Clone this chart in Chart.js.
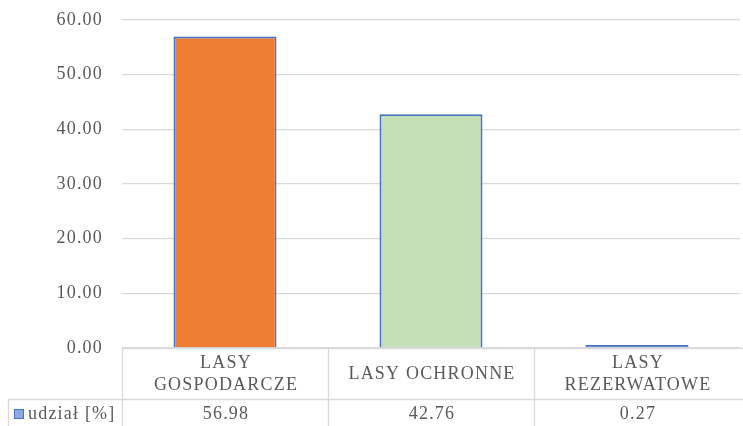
<!DOCTYPE html>
<html>
<head>
<meta charset="utf-8">
<script src="https://cdn.jsdelivr.net/npm/chart.js@4"></script>
<style>
  html, body { margin: 0; padding: 0; background: #fff; }
  #wrap { width: 743px; height: 426px; }
</style>
</head>
<body>
<div id="wrap"><canvas id="grafica" width="743" height="426"></canvas></div>
<script>
var kategorie = [['LASY', 'GOSPODARCZE'], ['LASY OCHRONNE'], ['LASY', 'REZERWATOWE']];
var udzial = [56.98, 42.76, 0.27];
var etykietyWartosci = ['56.98', '42.76', '0.27'];
var nazwaSerii = 'udział [%]';

var kolorTekstu = '#595959';
var kolorSiatki = '#d9d9d9';
var czcionka = '"Liberation Serif", "Times New Roman", serif';
var odstepLiter = '1.2px';

// szerszy rozstaw liter jak w oryginale
var rozstaw = {
    id: 'rozstaw',
    beforeDraw: function(chart) {
        chart.ctx.letterSpacing = odstepLiter;
    }
};

// tabela danych pod wykresem (jak w Excelu)
var tabelaDanych = {
    id: 'tabelaDanych',
    afterDraw: function(chart) {
        var ctx = chart.ctx;
        var area = chart.chartArea;
        var x = chart.scales.x;
        var yTop = area.bottom;
        var yMid = yTop + 51;
        var yBot = chart.height;
        var n = kategorie.length;
        var krok = x.getPixelForValue(1) - x.getPixelForValue(0);

        ctx.save();
        ctx.letterSpacing = odstepLiter;
        ctx.strokeStyle = kolorSiatki;
        ctx.lineWidth = 1.3;
        ctx.beginPath();
        ctx.moveTo(area.left, yTop + 0.5);
        ctx.lineTo(chart.width, yTop + 0.5);
        ctx.moveTo(8, yMid + 0.5);
        ctx.lineTo(chart.width, yMid + 0.5);
        ctx.moveTo(8.5, yMid);
        ctx.lineTo(8.5, yBot);
        for (var i = 0; i < n; i++) {
            var xl = Math.round(x.getPixelForValue(i) - krok / 2) + 0.5;
            ctx.moveTo(xl, yTop);
            ctx.lineTo(xl, yBot);
        }
        ctx.stroke();

        ctx.fillStyle = kolorTekstu;
        ctx.font = '18px ' + czcionka;
        ctx.textAlign = 'center';
        ctx.textBaseline = 'middle';
        for (var j = 0; j < n; j++) {
            var cx = x.getPixelForValue(j) + 1;
            var linie = kategorie[j];
            var h = 22;
            var start = yTop + 26.5 - (linie.length - 1) * h / 2;
            for (var k = 0; k < linie.length; k++) {
                ctx.fillText(linie[k], cx, start + k * h);
            }
            ctx.fillText(etykietyWartosci[j], cx, yMid + 15);
        }

        // znacznik legendy
        ctx.fillStyle = '#8faadc';
        ctx.strokeStyle = '#4472c4';
        ctx.lineWidth = 1;
        ctx.fillRect(14, yMid + 10, 10, 10);
        ctx.strokeRect(14.5, yMid + 10.5, 9, 9);
        ctx.fillStyle = kolorTekstu;
        ctx.textAlign = 'left';
        ctx.fillText(nazwaSerii, 28, yMid + 15);
        ctx.restore();
    }
};

var ctx = document.getElementById('grafica').getContext('2d');
var wykres = new Chart(ctx, {
    type: 'bar',
    data: {
        labels: kategorie,
        datasets: [{
            label: nazwaSerii,
            data: udzial,
            backgroundColor: ['#ed7d31', '#c5e0b4', '#4472c4'],
            borderColor: '#4472c4',
            borderWidth: 2,
            minBarLength: 3,
            categoryPercentage: 1,
            barPercentage: 0.5
        }]
    },
    options: {
        responsive: false,
        animation: false,
        layout: { padding: { top: 20, right: 3, bottom: 78, left: 0 } },
        plugins: {
            legend: { display: false },
            tooltip: { enabled: false }
        },
        scales: {
            x: {
                display: false,
                offset: true
            },
            y: {
                min: 0,
                max: 60,
                ticks: {
                    stepSize: 10,
                    padding: 19,
                    color: kolorTekstu,
                    font: { family: czcionka, size: 18 },
                    callback: function(v) { return v.toFixed(2); }
                },
                grid: { color: kolorSiatki, lineWidth: 1.3, drawTicks: false },
                border: { display: false },
                afterFit: function(scale) {
                    scale.width = 122;
                    scale.paddingTop = 0;
                    scale.paddingBottom = 0;
                }
            }
        }
    },
    plugins: [rozstaw, tabelaDanych]
});
</script>
</body>
</html>
